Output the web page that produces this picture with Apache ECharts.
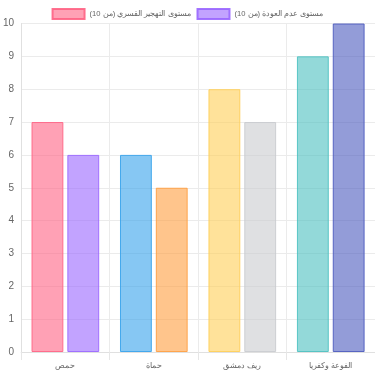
<!DOCTYPE html>
<html>
<head>
<meta charset="utf-8">
<script src="https://cdn.jsdelivr.net/npm/echarts@6/dist/echarts.min.js"></script>
<style>html,body{margin:0;padding:0;background:#fff}#c{width:375px;height:375px}</style>
</head>
<body>
<div id="c"></div>
<script>
const categories = ['حمص', 'حماة', 'ريف دمشق', 'الفوعة وكفريا'];
const seriesNames = ['مستوى التهجير القسري (من 10)', 'مستوى عدم العودة (من 10)'];
const displacement = [7, 6, 8, 9];
const noReturn = [6, 5, 7, 10];
const yTicks = [0, 1, 2, 3, 4, 5, 6, 7, 8, 9, 10];

const colors1 = [[255,99,132],[54,162,235],[255,206,86],[75,192,192]];
const colors2 = [[153,102,255],[255,159,64],[201,203,207],[75,90,190]];
const rgba = (c, a) => `rgba(${c[0]},${c[1]},${c[2]},${a})`;

function mk(values, cols) {
  return values.map((v, i) => ({
    value: v,
    itemStyle: { color: rgba(cols[i], 0.6), borderColor: rgba(cols[i], 0.9), borderWidth: 1 }
  }));
}

const chart = echarts.init(document.getElementById('c'));
chart.setOption({
  animation: false,
  textStyle: { fontFamily: 'Liberation Sans, Arial, sans-serif' },
  legend: {
    top: 3, left: 'center', icon: 'rect',
    itemWidth: 32, itemHeight: 10, itemGap: 6,
    textStyle: { color: '#666', fontSize: 7.6 },
    data: seriesNames
  },
  grid: { left: 20.5, right: 0, top: 23.5, bottom: 23 },
  xAxis: {
    type: 'category', data: categories,
    axisLine: { lineStyle: { color: '#e0e0e0' } },
    axisTick: { show: true, length: 8, lineStyle: { color: '#e6e6e6' } },
    axisLabel: { color: '#666', fontSize: 8, margin: 10 },
    splitLine: { show: true, lineStyle: { color: '#ebebeb' } }
  },
  yAxis: {
    type: 'value', min: yTicks[0], max: yTicks[yTicks.length - 1], interval: 1,
    axisLine: { show: true, lineStyle: { color: '#e0e0e0' } },
    axisTick: { show: false },
    axisLabel: { color: '#666', fontSize: 10, margin: 7 },
    splitLine: { lineStyle: { color: '#ebebeb' } }
  },
  series: [
    { name: seriesNames[0], type: 'bar', data: mk(displacement, colors1), barWidth: '36%', barGap: '12.5%',
      itemStyle: { color: rgba(colors1[0], 0.6), borderColor: rgba(colors1[0], 0.9), borderWidth: 1 } },
    { name: seriesNames[1], type: 'bar', data: mk(noReturn, colors2), barWidth: '36%', barGap: '12.5%',
      itemStyle: { color: rgba(colors2[0], 0.6), borderColor: rgba(colors2[0], 0.9), borderWidth: 1 } }
  ]
});
</script>
</body>
</html>
